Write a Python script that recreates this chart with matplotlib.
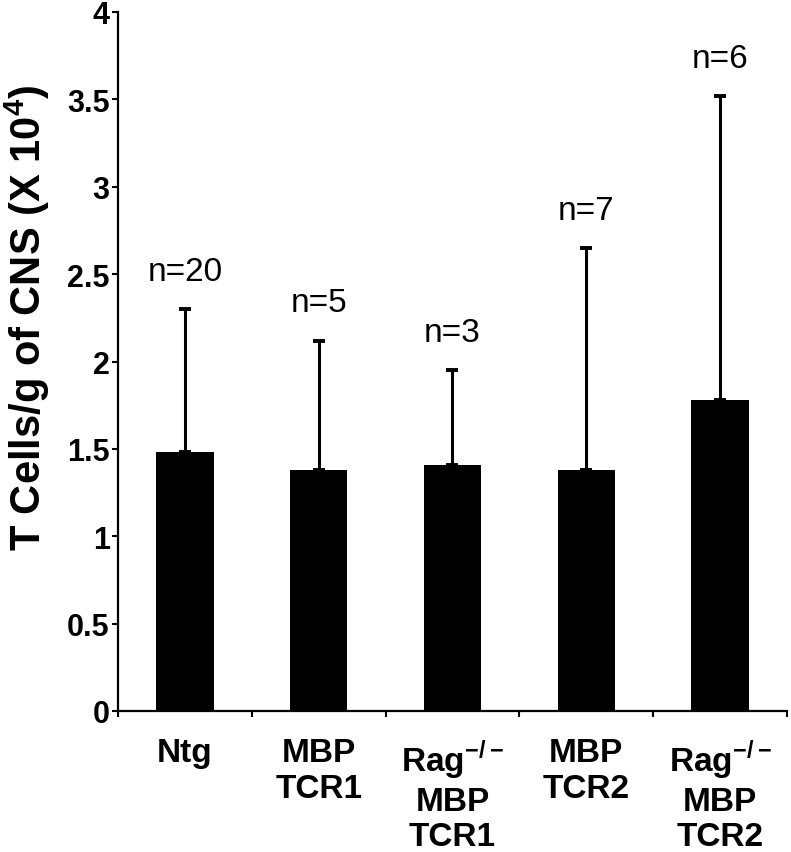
import matplotlib
matplotlib.use("Agg")
import matplotlib.pyplot as plt
import numpy as np

plt.rcParams['font.family'] = ['Liberation Sans', 'DejaVu Sans']
plt.rcParams['mathtext.fontset'] = 'custom'
plt.rcParams['mathtext.rm'] = 'Liberation Sans'
plt.rcParams['mathtext.bf'] = 'Liberation Sans:bold'

categories = ["Ntg", "MBP\nTCR1", "Rag$^{\\mathbf{-/-}}$\nMBP\nTCR1", "MBP\nTCR2", "Rag$^{\\mathbf{-/-}}$\nMBP\nTCR2"]
means = [1.48, 1.38, 1.41, 1.38, 1.78]
err_tops = [2.30, 2.12, 1.95, 2.65, 3.52]
n_labels = ["n=20", "n=5", "n=3", "n=7", "n=6"]
yticks = [0, 0.5, 1, 1.5, 2, 2.5, 3, 3.5, 4]
ytick_labels = ["0", "0.5", "1", "1.5", "2", "2.5", "3", "3.5", "4"]

fig = plt.figure(figsize=(7.91, 8.53), dpi=100)
ax = fig.add_axes([118/791, 1-712/853, (787-118)/791, (712-13)/853])

x = np.arange(len(categories))
errs = np.array(err_tops) - np.array(means)
ax.bar(x, means, width=0.43, color='black', zorder=2)
ax.errorbar(x, means, yerr=[np.zeros_like(errs), errs], fmt='none',
            ecolor='black', elinewidth=2.2, capsize=4.3, capthick=2.8, zorder=3)

for xi, top, lab in zip(x, err_tops, n_labels):
    ax.annotate(lab, (xi, top), xytext=(0, 21), textcoords='offset points',
                ha='center', va='baseline', fontsize=24)

ax.set_xlim(-0.5, 4.5)
ax.set_ylim(0, 4)
ax.set_yticks(yticks)
ax.set_yticklabels(ytick_labels, fontsize=22, fontweight='bold')
ax.set_xticks(x)
ax.set_xticklabels(categories, fontsize=24, fontweight='bold', va='top', linespacing=1.2)
ax.set_xticks(np.arange(-0.5, 5.0, 1.0), minor=True)
ax.tick_params(axis='x', which='major', length=0, pad=19)
ax.tick_params(axis='x', which='minor', length=4, width=1.5, direction='out')
ax.tick_params(axis='y', which='major', length=4, width=1.5, direction='out', pad=2)

for s in ['top', 'right']:
    ax.spines[s].set_visible(False)
ax.spines['left'].set_linewidth(1.6)
ax.spines['bottom'].set_linewidth(1.6)

fig.text(27/791, 1-318/853, "T Cells/g of CNS (X 10$^{\\mathbf{4}}$)", rotation=90,
         ha='center', va='center', fontsize=30, fontweight='bold')

fig.savefig("out.png", dpi=100)
